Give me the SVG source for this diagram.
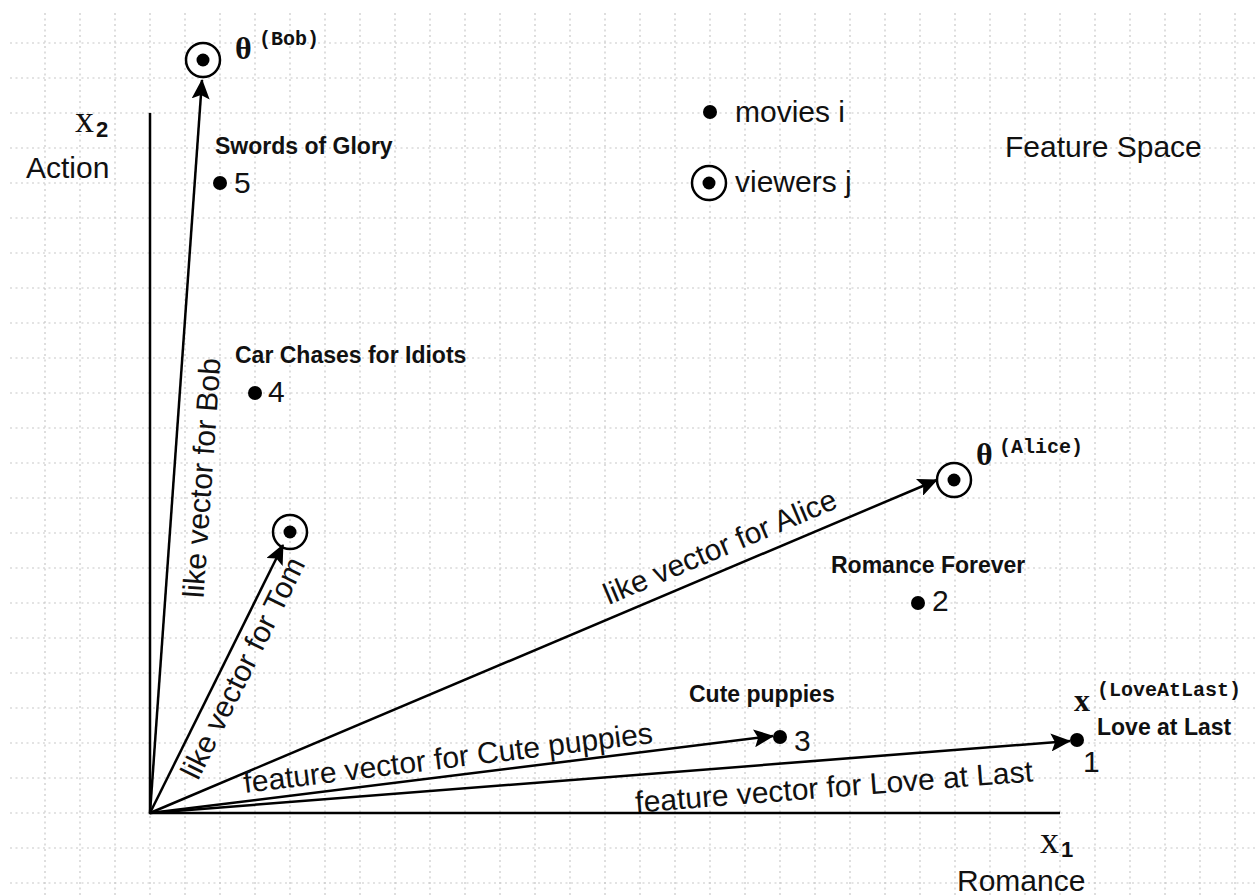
<svg xmlns="http://www.w3.org/2000/svg" width="1257" height="895" viewBox="0 0 1257 895">
  <defs>
    <style>
      .grid line { stroke: #c8c8c8; stroke-width: 1.2; stroke-dasharray: 2 3.5; }
      .axis { stroke: #000; stroke-width: 2.5; fill: none; }
      .vec { stroke: #000; stroke-width: 2.5; fill: none; marker-end: url(#head); }
      .ring { fill: #fff; stroke: #000; stroke-width: 2.5; }
      .dot { fill: #000; }
      .t { font-family: "Liberation Sans", Arial, sans-serif; font-size: 30px; fill: #111; }
      .b { font-family: "Liberation Sans", Arial, sans-serif; font-size: 23px; font-weight: bold; fill: #111; }
      .sym { font-family: "Liberation Serif", "Times New Roman", serif; font-weight: bold; font-size: 32px; fill: #111; }
      .ax { font-family: "Liberation Serif", "Times New Roman", serif; font-size: 38px; fill: #111; }
      .sub { font-family: "Liberation Sans", Arial, sans-serif; font-weight: bold; font-size: 22px; fill: #111; }
      .sup { font-family: "Liberation Mono", "Courier New", monospace; font-weight: bold; font-size: 20px; fill: #111; }
    </style>
    <marker id="head" viewBox="0 0 20 18" refX="19" refY="9" markerWidth="20" markerHeight="18" markerUnits="userSpaceOnUse" orient="auto">
      <path d="M0,0 L20,9 L0,18 L4,9 z" fill="#000"/>
    </marker>
  </defs>

  <rect width="1257" height="895" fill="#fff"/>

  <!-- background grid, 35px pitch -->
  <g class="grid" id="grid">
    <line x1="45" y1="13" x2="45" y2="895"/>
    <line x1="80" y1="13" x2="80" y2="895"/>
    <line x1="115" y1="13" x2="115" y2="895"/>
    <line x1="150" y1="13" x2="150" y2="895"/>
    <line x1="185" y1="13" x2="185" y2="895"/>
    <line x1="220" y1="13" x2="220" y2="895"/>
    <line x1="255" y1="13" x2="255" y2="895"/>
    <line x1="290" y1="13" x2="290" y2="895"/>
    <line x1="325" y1="13" x2="325" y2="895"/>
    <line x1="360" y1="13" x2="360" y2="895"/>
    <line x1="395" y1="13" x2="395" y2="895"/>
    <line x1="430" y1="13" x2="430" y2="895"/>
    <line x1="465" y1="13" x2="465" y2="895"/>
    <line x1="500" y1="13" x2="500" y2="895"/>
    <line x1="535" y1="13" x2="535" y2="895"/>
    <line x1="570" y1="13" x2="570" y2="895"/>
    <line x1="605" y1="13" x2="605" y2="895"/>
    <line x1="640" y1="13" x2="640" y2="895"/>
    <line x1="675" y1="13" x2="675" y2="895"/>
    <line x1="710" y1="13" x2="710" y2="895"/>
    <line x1="745" y1="13" x2="745" y2="895"/>
    <line x1="780" y1="13" x2="780" y2="895"/>
    <line x1="815" y1="13" x2="815" y2="895"/>
    <line x1="850" y1="13" x2="850" y2="895"/>
    <line x1="885" y1="13" x2="885" y2="895"/>
    <line x1="920" y1="13" x2="920" y2="895"/>
    <line x1="955" y1="13" x2="955" y2="895"/>
    <line x1="990" y1="13" x2="990" y2="895"/>
    <line x1="1025" y1="13" x2="1025" y2="895"/>
    <line x1="1060" y1="13" x2="1060" y2="895"/>
    <line x1="1095" y1="13" x2="1095" y2="895"/>
    <line x1="1130" y1="13" x2="1130" y2="895"/>
    <line x1="1165" y1="13" x2="1165" y2="895"/>
    <line x1="1200" y1="13" x2="1200" y2="895"/>
    <line x1="1235" y1="13" x2="1235" y2="895"/>
    <line x1="10" y1="43" x2="1257" y2="43"/>
    <line x1="10" y1="78" x2="1257" y2="78"/>
    <line x1="10" y1="113" x2="1257" y2="113"/>
    <line x1="10" y1="148" x2="1257" y2="148"/>
    <line x1="10" y1="183" x2="1257" y2="183"/>
    <line x1="10" y1="218" x2="1257" y2="218"/>
    <line x1="10" y1="253" x2="1257" y2="253"/>
    <line x1="10" y1="288" x2="1257" y2="288"/>
    <line x1="10" y1="323" x2="1257" y2="323"/>
    <line x1="10" y1="358" x2="1257" y2="358"/>
    <line x1="10" y1="393" x2="1257" y2="393"/>
    <line x1="10" y1="428" x2="1257" y2="428"/>
    <line x1="10" y1="463" x2="1257" y2="463"/>
    <line x1="10" y1="498" x2="1257" y2="498"/>
    <line x1="10" y1="533" x2="1257" y2="533"/>
    <line x1="10" y1="568" x2="1257" y2="568"/>
    <line x1="10" y1="603" x2="1257" y2="603"/>
    <line x1="10" y1="638" x2="1257" y2="638"/>
    <line x1="10" y1="673" x2="1257" y2="673"/>
    <line x1="10" y1="708" x2="1257" y2="708"/>
    <line x1="10" y1="743" x2="1257" y2="743"/>
    <line x1="10" y1="778" x2="1257" y2="778"/>
    <line x1="10" y1="813" x2="1257" y2="813"/>
    <line x1="10" y1="848" x2="1257" y2="848"/>
    <line x1="10" y1="883" x2="1257" y2="883"/>
  </g>

  <!-- axes -->
  <g id="axes">
    <path class="axis" d="M150,113 L150,813 L1060,813"/>
    <text class="ax" x="75" y="132">x</text>
    <text class="sub" x="96" y="137">2</text>
    <text class="t" x="26" y="178">Action</text>
    <text class="ax" x="1040" y="853">x</text>
    <text class="sub" x="1061" y="857">1</text>
    <text class="t" x="957" y="891">Romance</text>
  </g>

  <!-- vectors -->
  <g id="connectors">
    <line class="vec" x1="150" y1="813" x2="202" y2="80"/>
    <line class="vec" x1="150" y1="813" x2="283" y2="545"/>
    <line class="vec" x1="150" y1="813" x2="937" y2="480"/>
    <line class="vec" x1="150" y1="813" x2="773" y2="736"/>
    <line class="vec" x1="150" y1="813" x2="1070" y2="741"/>
    <text class="t" text-anchor="middle" transform="translate(202,478) rotate(-85.9)" y="10">like vector for Bob</text>
    <text class="t" text-anchor="middle" transform="translate(243,668) rotate(-63.6)" y="10">like vector for Tom</text>
    <text class="t" text-anchor="middle" transform="translate(720,547) rotate(-23)" y="10">like vector for Alice</text>
    <text class="t" text-anchor="middle" transform="translate(448,758) rotate(-7)" y="10">feature vector for Cute puppies</text>
    <text class="t" text-anchor="middle" transform="translate(834,787) rotate(-4.5)" y="10">feature vector for Love at Last</text>
  </g>

  <!-- viewers -->
  <g id="bob">
    <circle class="ring" cx="203" cy="60" r="17"/>
    <circle class="dot" cx="203" cy="60" r="6.5"/>
    <text class="sym" x="235" y="59">θ</text>
    <text class="sup" x="259" y="45">(Bob)</text>
  </g>
  <g id="tom">
    <circle class="ring" cx="290" cy="532" r="17" fill-opacity="0"/>
    <circle class="dot" cx="290" cy="532" r="6.5"/>
  </g>
  <g id="alice">
    <circle class="ring" cx="954" cy="480" r="17"/>
    <circle class="dot" cx="954" cy="480" r="6.5"/>
    <text class="sym" x="976" y="465">θ</text>
    <text class="sup" x="999" y="453">(Alice)</text>
  </g>

  <!-- movies -->
  <g id="movie5">
    <text class="b" x="215" y="154">Swords of Glory</text>
    <circle class="dot" cx="220" cy="183" r="7"/>
    <text class="t" x="234" y="193">5</text>
  </g>
  <g id="movie4">
    <text class="b" x="235" y="363">Car Chases for Idiots</text>
    <circle class="dot" cx="255" cy="393" r="7"/>
    <text class="t" x="268" y="402">4</text>
  </g>
  <g id="movie2">
    <text class="b" x="831" y="573">Romance Forever</text>
    <circle class="dot" cx="918" cy="603" r="7"/>
    <text class="t" x="932" y="611">2</text>
  </g>
  <g id="movie3">
    <text class="b" x="689" y="702">Cute puppies</text>
    <circle class="dot" cx="780" cy="737" r="7"/>
    <text class="t" x="794" y="751">3</text>
  </g>
  <g id="movie1">
    <text class="sym" x="1074" y="711">x</text>
    <text class="sup" x="1097" y="696">(LoveAtLast)</text>
    <text class="b" x="1097" y="735">Love at Last</text>
    <circle class="dot" cx="1077" cy="740" r="7"/>
    <text class="t" x="1083" y="772">1</text>
  </g>

  <!-- legend -->
  <g id="legend">
    <circle class="dot" cx="710" cy="112" r="7"/>
    <text class="t" x="735" y="122">movies i</text>
    <circle class="ring" cx="709" cy="183" r="17"/>
    <circle class="dot" cx="709" cy="183" r="6.5"/>
    <text class="t" x="735" y="192">viewers j</text>
    <text class="t" x="1005" y="157">Feature Space</text>
  </g>
</svg>
